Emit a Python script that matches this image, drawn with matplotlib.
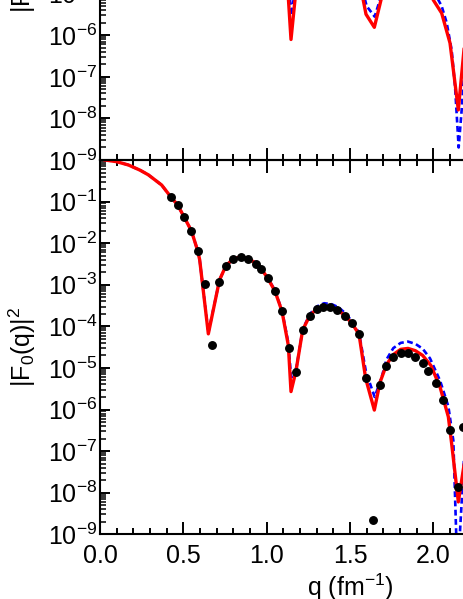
import numpy as np
import matplotlib
matplotlib.use("Agg")
import matplotlib.pyplot as plt
from matplotlib.ticker import LogLocator, NullFormatter, MultipleLocator, FuncFormatter, NullLocator

plt.rcParams['font.family'] = ['Liberation Sans', 'DejaVu Sans']
plt.rcParams['mathtext.fontset'] = 'custom'
plt.rcParams['mathtext.rm'] = 'Liberation Sans'
plt.rcParams['mathtext.it'] = 'Liberation Sans:italic'
plt.rcParams['mathtext.bf'] = 'Liberation Sans:bold'

# ---- bottom panel: measured points ----
q_data = [0.424, 0.466, 0.504, 0.548, 0.586, 0.630, 0.674, 0.714, 0.756, 0.800,
          0.844, 0.888, 0.936, 0.968, 1.006, 1.050, 1.092, 1.134, 1.176, 1.216,
          1.260, 1.300, 1.340, 1.380, 1.424, 1.468, 1.510, 1.554, 1.594, 1.638,
          1.680, 1.719, 1.760, 1.804, 1.848, 1.892, 1.936, 1.970, 2.016, 2.056,
          2.100, 2.148, 2.180]
f_data = [0.131, 0.083, 0.043, 0.020, 6.6e-3, 1.05e-3, 3.5e-5, 1.17e-3, 2.9e-3, 4.2e-3,
          4.7e-3, 4.2e-3, 3.2e-3, 2.4e-3, 1.43e-3, 6.9e-4, 2.3e-4, 3.1e-5, 8.1e-6, 8.2e-5,
          1.8e-4, 2.57e-4, 2.87e-4, 2.87e-4, 2.47e-4, 1.8e-4, 1.19e-4, 6.5e-5, 5.6e-6, 2.2e-9,
          3.9e-6, 1.11e-5, 1.86e-5, 2.25e-5, 2.25e-5, 1.86e-5, 1.35e-5, 8.6e-6, 4.4e-6, 1.73e-6,
          3.2e-7, 1.37e-8, 3.8e-7]

# ---- bottom panel: red solid model ----
q_red_bot = [0.03, 0.10, 0.17, 0.24, 0.29, 0.37, 0.424, 0.466, 0.504, 0.548,
             0.586, 0.598, 0.650, 0.717, 0.756, 0.800, 0.844, 0.888, 0.936, 0.968,
             1.006, 1.050, 1.092, 1.130, 1.146, 1.176, 1.216, 1.260, 1.300, 1.340,
             1.380, 1.424, 1.468, 1.510, 1.554, 1.594, 1.646, 1.680, 1.719, 1.760,
             1.804, 1.848, 1.892, 1.936, 1.985, 2.040, 2.090, 2.110, 2.150, 2.200]
f_red_bot = [1.0, 0.91, 0.76, 0.57, 0.44, 0.25, 0.131, 0.083, 0.043, 0.020,
             6.6e-3, 4.0e-3, 6.6e-5, 1.3e-3, 2.9e-3, 4.2e-3, 4.7e-3, 4.3e-3, 3.3e-3, 2.4e-3,
             1.45e-3, 7.0e-4, 2.3e-4, 3.5e-5, 2.7e-6, 8.5e-6, 8.2e-5, 1.85e-4, 2.6e-4, 2.95e-4,
             2.9e-4, 2.5e-4, 1.85e-4, 1.2e-4, 6.5e-5, 5.6e-6, 9.7e-7, 4.5e-6, 1.2e-5, 2.1e-5,
             2.8e-5, 2.95e-5, 2.6e-5, 2.0e-5, 1.15e-5, 3.5e-6, 6.7e-7, 1.5e-7, 6e-9, 1.2e-7]

# ---- bottom panel: blue dashed model ----
q_blue_bot = [0.03, 0.10, 0.17, 0.24, 0.29, 0.37, 0.424, 0.466, 0.504, 0.548,
              0.586, 0.598, 0.650, 0.717, 0.756, 0.800, 0.844, 0.888, 0.936, 0.968,
              1.006, 1.050, 1.092, 1.130, 1.150, 1.180, 1.216, 1.260, 1.300, 1.345,
              1.390, 1.430, 1.470, 1.510, 1.554, 1.596, 1.648, 1.690, 1.719, 1.760,
              1.804, 1.848, 1.892, 1.936, 1.980, 2.040, 2.090, 2.120, 2.145, 2.170, 2.200]
f_blue_bot = [1.0, 0.91, 0.76, 0.57, 0.44, 0.25, 0.131, 0.083, 0.043, 0.020,
              6.6e-3, 4.0e-3, 7e-5, 1.3e-3, 2.9e-3, 4.2e-3, 4.8e-3, 4.4e-3, 3.4e-3, 2.5e-3,
              1.5e-3, 7.2e-4, 2.4e-4, 4e-5, 4e-6, 1.1e-5, 8.5e-5, 2.0e-4, 3.0e-4, 3.6e-4,
              3.4e-4, 2.9e-4, 2.1e-4, 1.35e-4, 7e-5, 8e-6, 2e-6, 6e-6, 1.6e-5, 3.0e-5,
              4.0e-5, 4.3e-5, 3.8e-5, 2.9e-5, 1.7e-5, 5e-6, 1.2e-6, 1.8e-7, 1e-10, 6e-9, 1e-6]

# ---- top panel (only the lower part is visible) ----
q_red_top = [1.00, 1.10, 1.146, 1.19, 1.35, 1.55, 1.596, 1.646, 1.70, 1.85,
             1.95, 2.00, 2.05, 2.10, 2.15, 2.20]
f_red_top = [1e-3, 6e-4, 7.9e-7, 4.5e-5, 3e-4, 2.8e-5, 3.2e-6, 1.55e-6, 1.2e-5, 8e-5,
             2.5e-5, 7e-6, 3.4e-6, 6.5e-7, 1.6e-8, 2.2e-6]
q_blue_top = [1.00, 1.10, 1.148, 1.19, 1.35, 1.55, 1.60, 1.648, 1.70, 1.85,
              1.95, 2.01, 2.05, 2.08, 2.11, 2.13, 2.152, 2.17, 2.20]
f_blue_top = [1e-3, 6e-4, 3e-6, 4.5e-5, 3.5e-4, 3e-5, 5e-6, 2.8e-6, 1.3e-5, 1e-4,
              3e-5, 1e-5, 5e-6, 2e-6, 4.4e-7, 6e-8, 2e-9, 1.6e-8, 1e-6]

W, H = 463, 599
fig = plt.figure(figsize=(W / 100, H / 100), dpi=100)
left = 100 / W
width = 500 / W
hgt = 374.3 / H
ax_bot = fig.add_axes([left, (H - 534.3) / H, width, hgt])
ax_top = fig.add_axes([left, (H - 160) / H, width, hgt])

def dec_fmt(v, p):
    e = int(round(np.log10(v)))
    return r'$10^{%d}$' % e

def dec_fmt_bot(v, p):
    if v >= 0.999:
        return ''
    return dec_fmt(v, p)

for ax in (ax_top, ax_bot):
    ax.set_yscale('log')
    ax.set_xlim(0, 3.0)
    ax.set_ylim(1e-9, 1.0)
    ax.yaxis.set_major_locator(LogLocator(base=10, numticks=30))
    ax.yaxis.set_minor_locator(LogLocator(base=10, subs=np.arange(2, 10), numticks=30))
    ax.yaxis.set_minor_formatter(NullFormatter())
    ax.xaxis.set_major_locator(MultipleLocator(0.5))
    ax.xaxis.set_minor_locator(MultipleLocator(0.1))
    ax.tick_params(which='both', direction='in', top=True, right=True, width=1.4,
                   labelsize=18)
    ax.tick_params(axis='x', which='major', length=9, pad=7)
    ax.tick_params(axis='x', which='minor', length=4.5)
    ax.tick_params(axis='y', which='major', length=7, pad=2)
    ax.tick_params(axis='y', which='minor', length=4.5, width=1.1)
    for s in ax.spines.values():
        s.set_linewidth(1.5)
    ax.patch.set_alpha(0)

ax_bot.yaxis.set_major_formatter(FuncFormatter(dec_fmt_bot))
ax_top.yaxis.set_major_formatter(FuncFormatter(dec_fmt))
ax_top.tick_params(axis='x', labelbottom=False)

# bottom panel curves
ax_bot.plot(q_blue_bot, f_blue_bot, color='#0000ff', lw=1.9, ls=(0, (2.2, 1.3)), zorder=2)
ax_bot.plot(q_red_bot, f_red_bot, color='#ff0000', lw=2.4, zorder=3)
ax_bot.plot(q_data, f_data, 'o', color='black', ms=5.4, zorder=4, clip_on=False)

# top panel curves
ax_top.plot(q_blue_top, f_blue_top, color='#0000ff', lw=1.9, ls=(0, (2.2, 1.3)), zorder=2)
ax_top.plot(q_red_top, f_red_top, color='#ff0000', lw=2.4, zorder=3)

ax_bot.set_xlabel(r'q (fm$^{-1}$)', fontsize=18)
ax_bot.xaxis.set_label_coords(0.5, -0.100)
ax_bot.set_ylabel(r'|F$_0$(q)|$^2$', fontsize=18)
ax_bot.yaxis.set_label_coords(-0.125, 0.5)
ax_top.set_ylabel(r'|F$_2$(q)|$^2$', fontsize=18)
ax_top.yaxis.set_label_coords(-0.125, 0.5)

fig.savefig('out.png', dpi=100)
